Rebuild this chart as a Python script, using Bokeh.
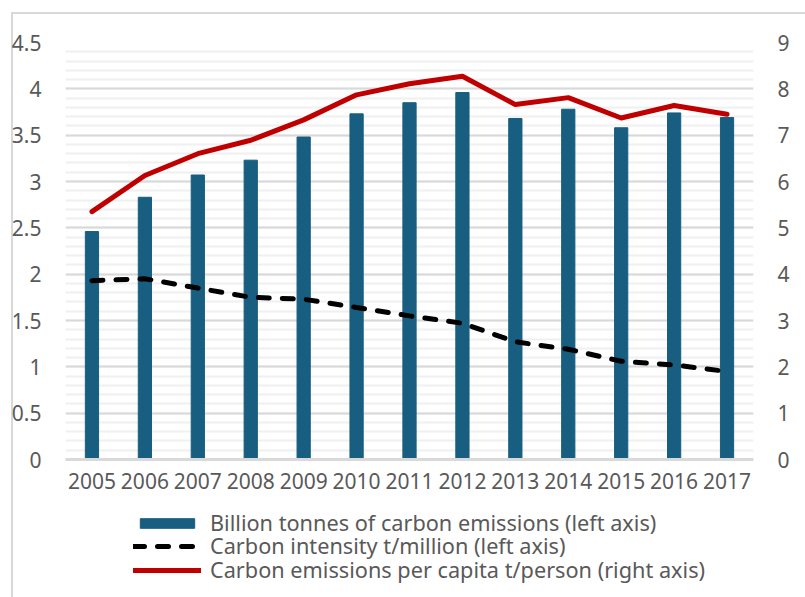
from bokeh.plotting import figure
from bokeh.models import (FactorRange, Range1d, LinearAxis, FixedTicker, Legend, LegendItem)
from bokeh.layouts import column
from bokeh.embed import file_html
from bokeh.resources import INLINE

years = ["2005", "2006", "2007", "2008", "2009", "2010", "2011", "2012",
         "2013", "2014", "2015", "2016", "2017"]
emissions = [2.46, 2.83, 3.07, 3.23, 3.48, 3.73, 3.85, 3.96, 3.68, 3.78, 3.58, 3.74, 3.69]
intensity = [1.93, 1.95, 1.85, 1.75, 1.73, 1.64, 1.55, 1.47, 1.27, 1.19, 1.06, 1.02, 0.95]
per_capita = [5.35, 6.13, 6.60, 6.89, 7.33, 7.87, 8.11, 8.27, 7.66, 7.81, 7.37, 7.64, 7.45]

left_ticks = [0, 0.5, 1, 1.5, 2, 2.5, 3, 3.5, 4, 4.5]
left_labels = ["0", "0.5", "1", "1.5", "2", "2.5", "3", "3.5", "4", "4.5"]
right_ticks = [0, 1, 2, 3, 4, 5, 6, 7, 8, 9]
legend_labels = ["Billion tonnes of carbon emissions (left axis)",
                 "Carbon intensity t/million (left axis)",
                 "Carbon emissions per capita t/person (right axis)"]

FONT = "Noto Sans"
TXT = "#595959"
BAR = "#175E80"
RED = "#C00000"
EDGE = "#d9d9d9"

frame_bg_top = {"background": (f"linear-gradient({EDGE},{EDGE}) 11px 12px / 2px 100% no-repeat, "
                               f"linear-gradient({EDGE},{EDGE}) 11px 12px / 100% 2px no-repeat, white")}
frame_bg_bottom = {"background": f"linear-gradient({EDGE},{EDGE}) 11px 0px / 2px 100% no-repeat, white"}

p = figure(x_range=FactorRange(*years, range_padding=0),
           y_range=Range1d(0, 4.5),
           width=805, height=508, output_backend="svg", toolbar_location=None,
           min_border_left=65, min_border_right=52, min_border_top=42, min_border_bottom=49)
p.outline_line_color = None
p.border_fill_alpha = 0
p.styles = frame_bg_top

p.extra_y_ranges = {"right": Range1d(0, 9)}

minor = [round(i * 0.1, 2) for i in range(46)]
p.yaxis.ticker = FixedTicker(ticks=left_ticks, minor_ticks=minor)
p.yaxis.major_label_overrides = {t: l for t, l in zip(left_ticks, left_labels)}
p.ygrid.grid_line_color = "#d9d9d9"
p.ygrid.grid_line_width = 2
p.ygrid.minor_grid_line_color = "#f0f0f0"
p.ygrid.minor_grid_line_width = 2
p.xgrid.grid_line_color = None

ya = p.yaxis[0]
ya.axis_line_color = None
ya.major_tick_line_color = None
ya.minor_tick_line_color = None
ya.major_label_text_font = FONT
ya.major_label_text_font_size = "21px"
ya.major_label_text_color = TXT
ya.major_label_standoff = 18

ra = LinearAxis(y_range_name="right", ticker=FixedTicker(ticks=right_ticks))
ra.axis_line_color = None
ra.major_tick_line_color = None
ra.minor_tick_line_color = None
ra.major_label_text_font = FONT
ra.major_label_text_font_size = "21px"
ra.major_label_text_color = TXT
ra.major_label_standoff = 18
p.add_layout(ra, "right")

xa = p.xaxis[0]
xa.axis_line_color = "#d9d9d9"
xa.axis_line_width = 3
xa.major_tick_line_color = None
xa.minor_tick_line_color = None
xa.major_label_text_font = FONT
xa.major_label_text_font_size = "21px"
xa.major_label_text_color = TXT
xa.major_label_standoff = 7

bars = p.vbar(x=years, top=emissions, width=0.25, color=BAR)
dash = p.line(x=years, y=intensity, line_color="black", line_width=5,
              line_dash="11 13", line_cap="round")
red = p.line(x=years, y=per_capita, line_color=RED, line_width=5,
             line_cap="round", line_join="round", y_range_name="right")

# legend in its own strip below the chart (proxy renderers kept out of view)
lg = figure(width=805, height=89, output_backend="svg", toolbar_location=None,
            x_range=FactorRange(*years), y_range=Range1d(100, 101),
            x_axis_type=None, y_axis_type=None, min_border=0)
lg.outline_line_color = None
lg.border_fill_alpha = 0
lg.styles = frame_bg_bottom
lg.xgrid.grid_line_color = None
lg.ygrid.grid_line_color = None
lb = lg.vbar(x=years, top=emissions, width=0.25, color=BAR)
ld = lg.line(x=years, y=intensity, line_color="black", line_width=5,
             line_dash="11 13", line_cap="round")
lr = lg.line(x=years, y=per_capita, line_color=RED, line_width=5, line_cap="round")

rows_y = [60, 37, 13]
for lab, rend, yy in zip(legend_labels, [lb, ld, lr], rows_y):
    leg = Legend(items=[LegendItem(label=lab, renderers=[rend])],
                 location=(68, yy), orientation="vertical",
                 background_fill_alpha=0, border_line_color=None,
                 label_text_font=FONT, label_text_font_size="21.7px",
                 label_text_line_height=1.0,
                 label_text_color=TXT, glyph_width=68, glyph_height=12,
                 label_standoff=9, spacing=0, padding=0, margin=0, label_height=23)
    lg.add_layout(leg)

layout = column(p, lg, spacing=0)
open("out.html", "w").write(file_html(layout, INLINE))
